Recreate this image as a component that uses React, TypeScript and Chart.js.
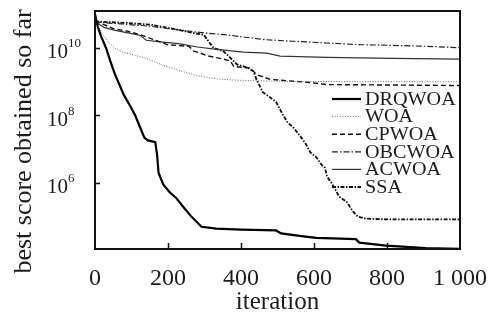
import React, { useEffect, useRef } from 'react';
import { Chart, registerables } from 'chart.js';

Chart.register(...registerables);

// ---- data (iteration, best score) ----
const drqIter = [0, 8, 18, 30, 42, 55, 65, 78, 95, 110, 122, 135, 145, 165, 170, 174, 187, 205, 223, 241, 264, 292, 332, 400, 496, 510, 560, 606, 715, 724, 797, 906, 1000];
const drqVal = [1e11, 4e10, 2e10, 1e10, 4e9, 1.6e9, 8.9e8, 4.2e8, 2e8, 1e8, 4.8e7, 2.2e7, 1.8e7, 1.6e7, 7e6, 2e6, 9e5, 5.2e5, 3.5e5, 2e5, 1e5, 5e4, 4.4e4, 4.1e4, 3.9e4, 3.2e4, 2.7e4, 2.35e4, 2.15e4, 1.7e4, 1.38e4, 1.17e4, 1.12e4];

const woaIter = [0, 10, 20, 36, 55, 75, 96, 141, 187, 232, 278, 332, 380, 440, 550, 1000];
const woaVal = [6e10, 4e10, 2.6e10, 1.5e10, 9.5e9, 7.4e9, 6.6e9, 4.8e9, 3e9, 2.1e9, 1.5e9, 1.2e9, 1.1e9, 1.05e9, 1e9, 9.8e8];

const cpIter = [0, 25, 52, 88, 125, 161, 198, 257, 271, 289, 307, 352, 371, 380, 425, 443, 480, 544, 590, 635, 1000];
const cpVal = [6e10, 4.8e10, 3.6e10, 3.1e10, 2.4e10, 1.74e10, 1.23e10, 1.1e10, 7.9e9, 6.9e9, 5.8e9, 4.6e9, 4e9, 2.8e9, 2.5e9, 1.6e9, 1.15e9, 1.02e9, 9.3e8, 8.1e8, 7.6e8];

const obcIter = [0, 25, 88, 152, 225, 298, 362, 462, 544, 634, 726, 817, 908, 1000];
const obcVal = [6e10, 5.5e10, 4.9e10, 4.3e10, 3.4e10, 2.75e10, 2.4e10, 1.74e10, 1.55e10, 1.38e10, 1.23e10, 1.17e10, 1.1e10, 1e10];

const acIter = [0, 25, 52, 90, 125, 140, 180, 234, 280, 334, 407, 471, 507, 635, 817, 1000];
const acVal = [5.8e10, 4e10, 3.3e10, 2.75e10, 2.3e10, 1.66e10, 1.48e10, 1.29e10, 1.05e10, 8.9e9, 7.4e9, 6.9e9, 5.6e9, 5.2e9, 4.8e9, 4.6e9];

const ssaIter = [0, 25, 88, 152, 216, 271, 298, 311, 325, 352, 371, 389, 416, 434, 443, 460, 478, 496, 514, 528, 542, 560, 578, 590, 606, 620, 630, 636, 651, 669, 690, 705, 720, 742, 800, 1000];
const ssaVal = [6e10, 5.8e10, 5.4e10, 4.8e10, 3.6e10, 2.7e10, 2.4e10, 1.55e10, 9.8e9, 7.8e9, 5e9, 3.2e9, 2.6e9, 2e9, 1.12e9, 4.8e8, 3.5e8, 2.5e8, 1.07e8, 6e7, 4.5e7, 2.6e7, 1.4e7, 7.9e6, 5.8e6, 3.5e6, 2.8e6, 1.5e6, 8.9e5, 3.9e5, 2.7e5, 1.5e5, 1e5, 8.7e4, 8.3e4, 8.3e4];

const seriesNames = ['DRQWOA', 'WOA', 'CPWOA', 'OBCWOA', 'ACWOA', 'SSA'];
const xTickValues = [0, 200, 400, 600, 800, 1000];
const xTickLabels = ['0', '200', '400', '600', '800', '1 000'];
const yTickExponents = [6, 8, 10];
const xTitle = 'iteration';
const yTitle = 'best score obtained so far';

const serif = '"Liberation Serif", "Times New Roman", serif';
const textColor = '#1c1c1c';

const toPoints = (xs: number[], ys: number[]) => xs.map((x, i) => ({ x, y: ys[i] }));

const decorPlugin = {
  id: 'decor',
  afterDatasetsDraw(chart: any) {
    const { ctx, chartArea: a, scales } = chart;
    const xs = scales.x;
    const ys = scales.y;
    ctx.save();
    // frame
    ctx.strokeStyle = '#111';
    ctx.lineWidth = 2;
    ctx.setLineDash([]);
    ctx.strokeRect(a.left, a.top, a.right - a.left, a.bottom - a.top);
    // inward tick marks
    ctx.lineWidth = 1.5;
    ctx.beginPath();
    xTickValues.slice(1, -1).forEach((v) => {
      const px = Math.round(xs.getPixelForValue(v)) + 0.5;
      ctx.moveTo(px, a.bottom);
      ctx.lineTo(px, a.bottom - 6);
    });
    yTickExponents.forEach((e) => {
      const py = Math.round(ys.getPixelForValue(Math.pow(10, e))) + 0.5;
      ctx.moveTo(a.left, py);
      ctx.lineTo(a.left + 5, py);
    });
    ctx.stroke();
    // y tick labels with superscript exponent
    ctx.fillStyle = textColor;
    ctx.textAlign = 'left';
    ctx.textBaseline = 'alphabetic';
    yTickExponents.forEach((e) => {
      const py = ys.getPixelForValue(Math.pow(10, e));
      ctx.font = `21px ${serif}`;
      ctx.fillText('10', a.left - 48, py + 10.5);
      ctx.font = `13px ${serif}`;
      ctx.fillText(String(e), a.left - 27, py - 0.7);
    });
    // y axis title
    ctx.save();
    ctx.translate(24, 141.5);
    ctx.rotate(-Math.PI / 2);
    ctx.font = `26px ${serif}`;
    ctx.textAlign = 'center';
    ctx.textBaseline = 'middle';
    ctx.fillText(yTitle, 0, 0);
    ctx.restore();
    // legend inside the plot
    chart.data.datasets.forEach((ds: any, i: number) => {
      const ly = a.top + 88 + i * 17.6;
      ctx.strokeStyle = ds.borderColor;
      ctx.lineWidth = ds.borderWidth;
      ctx.setLineDash(ds.borderDash || []);
      ctx.beginPath();
      ctx.moveTo(a.right - 128, ly);
      ctx.lineTo(a.right - 99, ly);
      ctx.stroke();
      ctx.setLineDash([]);
      ctx.save();
      ctx.translate(a.right - 95, ly + 1);
      ctx.scale(1.12, 1);
      ctx.fillStyle = textColor;
      ctx.font = `18px ${serif}`;
      ctx.textAlign = 'left';
      ctx.textBaseline = 'middle';
      ctx.fillText(ds.label, 0, 0);
      ctx.restore();
    });
    ctx.restore();
  },
};

export default function App() {
  const ref = useRef<HTMLCanvasElement | null>(null);
  useEffect(() => {
    if (!ref.current) return;
    const styles = [
      { borderColor: '#000', borderWidth: 2.2, borderDash: [] as number[] },
      { borderColor: '#666', borderWidth: 1, borderDash: [1, 1.6] },
      { borderColor: '#111', borderWidth: 1.4, borderDash: [5, 3] },
      { borderColor: '#222', borderWidth: 1.2, borderDash: [6, 2, 1.5, 2] },
      { borderColor: '#333', borderWidth: 1.2, borderDash: [] as number[] },
      { borderColor: '#111', borderWidth: 1.8, borderDash: [4, 1.5, 1.5, 1.5] },
    ];
    const sets = [
      toPoints(drqIter, drqVal),
      toPoints(woaIter, woaVal),
      toPoints(cpIter, cpVal),
      toPoints(obcIter, obcVal),
      toPoints(acIter, acVal),
      toPoints(ssaIter, ssaVal),
    ];
    const chart = new Chart(ref.current, {
      type: 'line',
      data: {
        datasets: sets.map((d, i) => ({
          label: seriesNames[i],
          data: d,
          ...styles[i],
          pointRadius: 0,
          tension: 0,
          fill: false,
        })),
      },
      options: {
        animation: false,
        responsive: false,
        layout: { padding: { top: 11, right: 33, left: 0, bottom: 0 } },
        plugins: { legend: { display: false }, tooltip: { enabled: false } },
        scales: {
          x: {
            type: 'linear',
            min: 0,
            max: 1000,
            grid: { display: false },
            border: { display: false },
            afterBuildTicks: (s: any) => {
              s.ticks = xTickValues.map((v) => ({ value: v }));
            },
            afterFit: (s: any) => {
              s.height = 74;
            },
            ticks: {
              autoSkip: false,
              maxRotation: 0,
              padding: 7,
              color: textColor,
              font: { family: serif, size: 24 },
              callback: (v: any) => {
                const idx = xTickValues.indexOf(Number(v));
                return idx >= 0 ? xTickLabels[idx] : '';
              },
            },
            title: {
              display: true,
              text: xTitle,
              color: textColor,
              font: { family: serif, size: 25 },
              padding: { top: 0, bottom: 6 },
            },
          },
          y: {
            type: 'logarithmic',
            min: 1.1e4,
            max: 1.22e11,
            grid: { display: false },
            border: { display: false },
            ticks: { display: false },
            afterFit: (s: any) => {
              s.width = 95;
            },
          },
        },
      },
      plugins: [decorPlugin],
    });
    return () => chart.destroy();
  }, []);
  return (
    <div style={{ position: 'fixed', left: 0, top: 0, width: 494, height: 323, background: '#fff' }}>
      <canvas ref={ref} width={494} height={323} style={{ display: 'block' }} />
    </div>
  );
}
